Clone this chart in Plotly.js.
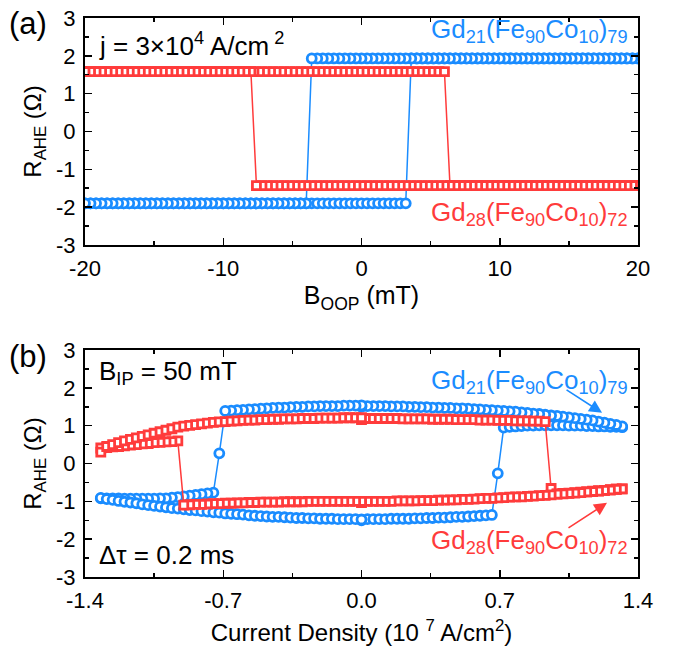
<!DOCTYPE html>
<html>
<head>
<meta charset="utf-8">
<script src="https://cdn.plot.ly/plotly-3.0.1.min.js"></script>
<style>html,body{margin:0;padding:0;background:#fff}#chart{width:677px;height:655px}</style>
</head>
<body>
<div id="chart"></div>
<script>
// ---------- Panel (a): AHE loops vs out-of-plane field (mT) ----------
const fieldT = [
 -20,-19.6,-19.2,-18.8,-18.4,-18,-17.6,-17.2,-16.8,-16.4,
 -16,-15.6,-15.2,-14.8,-14.4,-14,-13.6,-13.2,-12.8,-12.4,
 -12,-11.6,-11.2,-10.8,-10.4,-10,-9.6,-9.2,-8.8,-8.4,
 -8,-7.6,-7.2,-6.8,-6.4,-6,-5.6,-5.2,-4.8,-4.4,
 -4,-3.6,-3.2,-2.8,-2.4,-2,-1.6,-1.2,-0.8,-0.4,
 0,0.4,0.8,1.2,1.6,2,2.4,2.8,3.2,3.6,
 4,4.4,4.8,5.2,5.6,6,6.4,6.8,7.2,7.6,
 8,8.4,8.8,9.2,9.6,10,10.4,10.8,11.2,11.6,
 12,12.4,12.8,13.2,13.6,14,14.4,14.8,15.2,15.6,
 16,16.4,16.8,17.2,17.6,18,18.4,18.8,19.2,19.6,
 20
];
// Gd21(Fe90Co10)79, sweep up (-20 -> 20), listed by field
const blueUpT = [
 -1.9,-1.9,-1.9,-1.9,-1.9,-1.9,-1.9,-1.9,-1.9,-1.9,
 -1.9,-1.9,-1.9,-1.9,-1.9,-1.9,-1.9,-1.9,-1.9,-1.9,
 -1.9,-1.9,-1.9,-1.9,-1.9,-1.9,-1.9,-1.9,-1.9,-1.9,
 -1.9,-1.9,-1.9,-1.9,-1.9,-1.9,-1.9,-1.9,-1.9,-1.9,
 -1.9,-1.9,-1.9,-1.9,-1.9,-1.9,-1.9,-1.9,-1.9,-1.9,
 -1.9,-1.9,-1.9,-1.9,-1.9,-1.9,-1.9,-1.9,-1.9,1.93,
 1.93,1.93,1.93,1.93,1.93,1.93,1.93,1.93,1.93,1.93,
 1.93,1.93,1.93,1.93,1.93,1.93,1.93,1.93,1.93,1.93,
 1.93,1.93,1.93,1.93,1.93,1.93,1.93,1.93,1.93,1.93,
 1.93,1.93,1.93,1.93,1.93,1.93,1.93,1.93,1.93,1.93,
 1.93
];
// Gd21(Fe90Co10)79, sweep down (20 -> -20), listed by field
const blueDownT = [
 -1.9,-1.9,-1.9,-1.9,-1.9,-1.9,-1.9,-1.9,-1.9,-1.9,
 -1.9,-1.9,-1.9,-1.9,-1.9,-1.9,-1.9,-1.9,-1.9,-1.9,
 -1.9,-1.9,-1.9,-1.9,-1.9,-1.9,-1.9,-1.9,-1.9,-1.9,
 -1.9,-1.9,-1.9,-1.9,-1.9,-1.9,-1.9,-1.9,-1.9,-1.9,
 -1.9,1.93,1.93,1.93,1.93,1.93,1.93,1.93,1.93,1.93,
 1.93,1.93,1.93,1.93,1.93,1.93,1.93,1.93,1.93,1.93,
 1.93,1.93,1.93,1.93,1.93,1.93,1.93,1.93,1.93,1.93,
 1.93,1.93,1.93,1.93,1.93,1.93,1.93,1.93,1.93,1.93,
 1.93,1.93,1.93,1.93,1.93,1.93,1.93,1.93,1.93,1.93,
 1.93,1.93,1.93,1.93,1.93,1.93,1.93,1.93,1.93,1.93,
 1.93
];
// Gd28(Fe90Co10)72, sweep up, listed by field
const redUpT = [
 1.58,1.58,1.58,1.58,1.58,1.58,1.58,1.58,1.58,1.58,
 1.58,1.58,1.58,1.58,1.58,1.58,1.58,1.58,1.58,1.58,
 1.58,1.58,1.58,1.58,1.58,1.58,1.58,1.58,1.58,1.58,
 1.58,1.58,1.58,1.58,1.58,1.58,1.58,1.58,1.58,1.58,
 1.58,1.58,1.58,1.58,1.58,1.58,1.58,1.58,1.58,1.58,
 1.58,1.58,1.58,1.58,1.58,1.58,1.58,1.58,1.58,1.58,
 1.58,1.58,1.58,1.58,1.58,1.58,-1.43,-1.43,-1.43,-1.43,
 -1.43,-1.43,-1.43,-1.43,-1.43,-1.43,-1.43,-1.43,-1.43,-1.43,
 -1.43,-1.43,-1.43,-1.43,-1.43,-1.43,-1.43,-1.43,-1.43,-1.43,
 -1.43,-1.43,-1.43,-1.43,-1.43,-1.43,-1.43,-1.43,-1.43,-1.43,
 -1.43
];
// Gd28(Fe90Co10)72, sweep down, listed by field
const redDownT = [
 1.58,1.58,1.58,1.58,1.58,1.58,1.58,1.58,1.58,1.58,
 1.58,1.58,1.58,1.58,1.58,1.58,1.58,1.58,1.58,1.58,
 1.58,1.58,1.58,1.58,1.58,1.58,1.58,1.58,1.58,1.58,
 1.58,-1.43,-1.43,-1.43,-1.43,-1.43,-1.43,-1.43,-1.43,-1.43,
 -1.43,-1.43,-1.43,-1.43,-1.43,-1.43,-1.43,-1.43,-1.43,-1.43,
 -1.43,-1.43,-1.43,-1.43,-1.43,-1.43,-1.43,-1.43,-1.43,-1.43,
 -1.43,-1.43,-1.43,-1.43,-1.43,-1.43,-1.43,-1.43,-1.43,-1.43,
 -1.43,-1.43,-1.43,-1.43,-1.43,-1.43,-1.43,-1.43,-1.43,-1.43,
 -1.43,-1.43,-1.43,-1.43,-1.43,-1.43,-1.43,-1.43,-1.43,-1.43,
 -1.43,-1.43,-1.43,-1.43,-1.43,-1.43,-1.43,-1.43,-1.43,-1.43,
 -1.43
];

// ---------- Panel (b): AHE vs current density (10^7 A/cm^2) ----------
const jPos = [
 0,0.03,0.06,0.09,0.12,0.15,0.18,0.21,0.24,0.27,
 0.3,0.33,0.36,0.39,0.42,0.45,0.48,0.51,0.54,0.57,
 0.6,0.63,0.66,0.69,0.72,0.75,0.78,0.81,0.84,0.87,
 0.9,0.93,0.96,0.99,1.02,1.05,1.08,1.11,1.14,1.17,
 1.2,1.23,1.26,1.29,1.32
];
const jNeg = [
 0,-0.03,-0.06,-0.09,-0.12,-0.15,-0.18,-0.21,-0.24,-0.27,
 -0.3,-0.33,-0.36,-0.39,-0.42,-0.45,-0.48,-0.51,-0.54,-0.57,
 -0.6,-0.63,-0.66,-0.69,-0.72,-0.75,-0.78,-0.81,-0.84,-0.87,
 -0.9,-0.93,-0.96,-0.99,-1.02,-1.05,-1.08,-1.11,-1.14,-1.17,
 -1.2,-1.23,-1.26,-1.29,-1.32
];
// Gd21: A = 0 -> +1.32, B = +1.32 -> 0 (listed by jPos), C = 0 -> -1.32, D = -1.32 -> 0 (listed by jNeg)
const blueA = [
 -1.50,-1.47,-1.47,-1.47,-1.47,-1.46,-1.46,-1.46,-1.46,-1.45,
 -1.45,-1.44,-1.44,-1.43,-1.43,-1.42,-1.41,-1.41,-1.40,-1.39,
 -1.38,-1.37,-1.36,-0.26,0.95,0.97,0.98,0.99,1.00,1.00,
 1.01,1.01,1.01,1.01,1.01,1.00,1.00,1.00,0.99,0.99,
 0.98,0.98,0.97,0.97,0.96
];
const blueB = [
 1.50,1.52,1.52,1.52,1.52,1.51,1.51,1.51,1.50,1.50,
 1.49,1.49,1.48,1.48,1.47,1.47,1.46,1.46,1.45,1.44,
 1.43,1.42,1.41,1.40,1.39,1.38,1.37,1.35,1.34,1.32,
 1.31,1.29,1.27,1.26,1.24,1.22,1.20,1.18,1.16,1.14,
 1.11,1.08,1.05,1.02,0.98
];
const blueC = [
 1.54,1.53,1.53,1.53,1.52,1.52,1.52,1.52,1.51,1.51,
 1.50,1.50,1.49,1.48,1.48,1.47,1.46,1.45,1.44,1.43,
 1.42,1.41,1.40,1.39,0.27,-0.77,-0.79,-0.81,-0.83,-0.85,
 -0.87,-0.89,-0.90,-0.92,-0.92,-0.93,-0.93,-0.93,-0.93,-0.93,
 -0.93,-0.92,-0.92,-0.92,-0.92
];
const blueD = [
 -1.48,-1.47,-1.47,-1.47,-1.47,-1.46,-1.46,-1.46,-1.45,-1.45,
 -1.44,-1.44,-1.43,-1.42,-1.41,-1.41,-1.40,-1.39,-1.38,-1.37,
 -1.35,-1.34,-1.33,-1.32,-1.30,-1.29,-1.27,-1.26,-1.24,-1.23,
 -1.21,-1.19,-1.18,-1.16,-1.14,-1.12,-1.10,-1.08,-1.05,-1.03,
 -1.01,-0.99,-0.96,-0.94,-0.91
];
// Gd28
const redA = [
 1.16,1.19,1.19,1.19,1.19,1.19,1.19,1.18,1.18,1.18,
 1.18,1.18,1.17,1.17,1.17,1.17,1.16,1.16,1.16,1.16,
 1.15,1.15,1.15,1.14,1.14,1.14,1.13,1.13,1.13,1.12,
 1.12,1.11,-0.66,-0.80,-0.79,-0.78,-0.77,-0.76,-0.75,-0.73,
 -0.72,-0.71,-0.69,-0.68,-0.67
];
const redB = [
 -1.03,-1.00,-1.00,-1.00,-1.00,-1.00,-0.99,-0.99,-0.99,-0.99,
 -0.98,-0.98,-0.98,-0.97,-0.97,-0.96,-0.96,-0.95,-0.95,-0.94,
 -0.93,-0.92,-0.92,-0.91,-0.90,-0.89,-0.88,-0.88,-0.87,-0.86,
 -0.85,-0.84,-0.83,-0.81,-0.80,-0.79,-0.78,-0.77,-0.75,-0.74,
 -0.73,-0.71,-0.70,-0.68,-0.67
];
const redC = [
 -1.00,-1.00,-1.00,-1.00,-1.00,-1.00,-1.00,-1.00,-1.00,-1.00,
 -1.01,-1.01,-1.01,-1.01,-1.02,-1.02,-1.02,-1.02,-1.03,-1.03,
 -1.04,-1.04,-1.05,-1.05,-1.06,-1.06,-1.07,-1.08,-1.08,-1.09,
 -1.10,0.60,0.58,0.57,0.56,0.55,0.53,0.52,0.50,0.49,
 0.47,0.45,0.44,0.42,0.41
];
const redD = [
 1.21,1.21,1.21,1.21,1.20,1.20,1.20,1.20,1.19,1.19,
 1.19,1.18,1.18,1.18,1.17,1.17,1.16,1.16,1.15,1.15,
 1.14,1.13,1.12,1.11,1.10,1.09,1.07,1.05,1.03,1.01,
 0.99,0.96,0.92,0.88,0.84,0.80,0.76,0.72,0.68,0.64,
 0.60,0.55,0.50,0.45,0.30
];

// Tick labels
const yTickVals = [-3,-2,-1,0,1,2,3];
const yTickText = ['-3','-2','-1','0','1','2','3'];
const xTopTickVals = [-20,-10,0,10,20];
const xTopTickText = ['-20','-10','0','10','20'];
const xBotTickVals = [-1.4,-0.7,0,0.7,1.4];
const xBotTickText = ['-1.4','-0.7','0.0','0.7','1.4'];

// ---------- build ----------
const BLUE = '#1a8cff', RED = '#ff3b3b';
const FONT = 'Liberation Sans, Arial, Helvetica, sans-serif';
const rev = a => a.slice().reverse();

function mk(x, y, color, symbol, size, xa, ya) {
  return {
    x: x, y: y, xaxis: xa, yaxis: ya, type: 'scatter', mode: 'lines+markers',
    line: {color: color, width: 1.5},
    marker: {symbol: symbol, size: size, color: 'white', line: {color: color, width: 2.8}},
    showlegend: false, hoverinfo: 'skip'
  };
}

const data = [
  mk(fieldT.concat(rev(fieldT)), blueUpT.concat(rev(blueDownT)), BLUE, 'circle', 9, 'x', 'y'),
  mk(fieldT.concat(rev(fieldT)), redUpT.concat(rev(redDownT)), RED, 'square', 8, 'x', 'y'),
  mk(jPos.concat(rev(jPos), jNeg, rev(jNeg)), blueA.concat(rev(blueB), blueC, rev(blueD)), BLUE, 'circle', 9, 'x2', 'y2'),
  mk(jPos.concat(rev(jPos), jNeg, rev(jNeg)), redA.concat(rev(redB), redC, rev(redD)), RED, 'square', 8, 'x2', 'y2')
];

function axisBase() {
  return {
    showline: true, linecolor: 'black', linewidth: 2, mirror: 'allticks',
    ticks: 'inside', ticklen: 7, tickwidth: 1.5, tickcolor: 'black',
    showgrid: false, zeroline: false,
    tickfont: {family: FONT, size: 22, color: 'black'}
  };
}

const xTop = Object.assign(axisBase(), {
  domain: [0, 1], anchor: 'y', range: [-20, 20],
  tickmode: 'array', tickvals: xTopTickVals, ticktext: xTopTickText, ticklabelstandoff: 3,
  minor: {tickmode: 'linear', tick0: 0, dtick: 5, ticks: 'inside', ticklen: 4, tickwidth: 1.5, tickcolor: 'black'},
  title: {text: 'B<sub>OOP</sub> (mT)', font: {family: FONT, size: 25, color: 'black'}, standoff: 5}
});
const yTop = Object.assign(axisBase(), {
  domain: [0.594, 1], anchor: 'x', range: [-3, 3],
  tickmode: 'array', tickvals: yTickVals, ticktext: yTickText, ticklabelstandoff: 3,
  minor: {tickmode: 'linear', tick0: 0, dtick: 0.5, ticks: 'inside', ticklen: 4, tickwidth: 1.5, tickcolor: 'black'},
  title: {text: 'R<sub>AHE</sub> (Ω)', font: {family: FONT, size: 24, color: 'black'}, standoff: 8}
});
const xBot = Object.assign(axisBase(), {
  domain: [0, 1], anchor: 'y2', range: [-1.4, 1.4],
  tickmode: 'array', tickvals: xBotTickVals, ticktext: xBotTickText, ticklabelstandoff: 3,
  minor: {tickmode: 'linear', tick0: 0, dtick: 0.35, ticks: 'inside', ticklen: 4, tickwidth: 1.5, tickcolor: 'black'},
  title: {text: 'Current Density (10 <sup>7</sup> A/cm<sup>2</sup>)', font: {family: FONT, size: 24, color: 'black'}, standoff: 12}
});
const yBot = Object.assign(axisBase(), {
  domain: [0, 0.406], anchor: 'x2', range: [-3, 3],
  tickmode: 'array', tickvals: yTickVals, ticktext: yTickText, ticklabelstandoff: 3,
  minor: {tickmode: 'linear', tick0: 0, dtick: 0.5, ticks: 'inside', ticklen: 4, tickwidth: 1.5, tickcolor: 'black'},
  title: {text: 'R<sub>AHE</sub> (Ω)', font: {family: FONT, size: 24, color: 'black'}, standoff: 8}
});

function txt(text, x, y, color, size, xanchor) {
  return {text: text, x: x, y: y, xref: 'paper', yref: 'paper', xanchor: xanchor || 'left', yanchor: 'middle',
          showarrow: false, font: {family: FONT, size: size, color: color}};
}
const annotations = [
  txt('(a)', -0.103, 0.99, 'black', 31, 'center'),
  txt('(b)', -0.103, 0.394, 'black', 31, 'center'),
  txt('j = 3×10<sup>4</sup> A/cm<sup> 2</sup>', 0.022, 0.952, 'black', 26),
  txt('Gd<sub>21</sub>(Fe<sub>90</sub>Co<sub>10</sub>)<sub>79</sub>', 0.985, 0.977, BLUE, 26, 'right'),
  txt('Gd<sub>28</sub>(Fe<sub>90</sub>Co<sub>10</sub>)<sub>72</sub>', 0.985, 0.650, RED, 26, 'right'),
  txt('B<sub>IP</sub> = 50 mT', 0.022, 0.365, 'black', 26),
  txt('Gd<sub>21</sub>(Fe<sub>90</sub>Co<sub>10</sub>)<sub>79</sub>', 0.985, 0.350, BLUE, 26, 'right'),
  txt('Δτ = 0.2 ms', 0.022, 0.040, 'black', 26),
  txt('Gd<sub>28</sub>(Fe<sub>90</sub>Co<sub>10</sub>)<sub>72</sub>', 0.985, 0.064, RED, 26, 'right'),
  {x: 1.218, y: 1.34, xref: 'x2', yref: 'y2', ax: -37, ay: -24, axref: 'pixel', ayref: 'pixel',
   showarrow: true, arrowhead: 2, arrowsize: 1.6, arrowwidth: 1.6, arrowcolor: BLUE, text: ''},
  {x: 1.243, y: -1.04, xref: 'x2', yref: 'y2', ax: -40, ay: 26, axref: 'pixel', ayref: 'pixel',
   showarrow: true, arrowhead: 2, arrowsize: 1.6, arrowwidth: 1.6, arrowcolor: RED, text: ''}
];

const layout = {
  width: 677, height: 655,
  margin: {l: 85, r: 39, t: 18, b: 78},
  paper_bgcolor: 'white', plot_bgcolor: 'white',
  font: {family: FONT, color: 'black'},
  xaxis: xTop, yaxis: yTop, xaxis2: xBot, yaxis2: yBot,
  annotations: annotations,
  showlegend: false
};

Plotly.newPlot('chart', data, layout, {displayModeBar: false, staticPlot: true});
</script>
</body>
</html>
